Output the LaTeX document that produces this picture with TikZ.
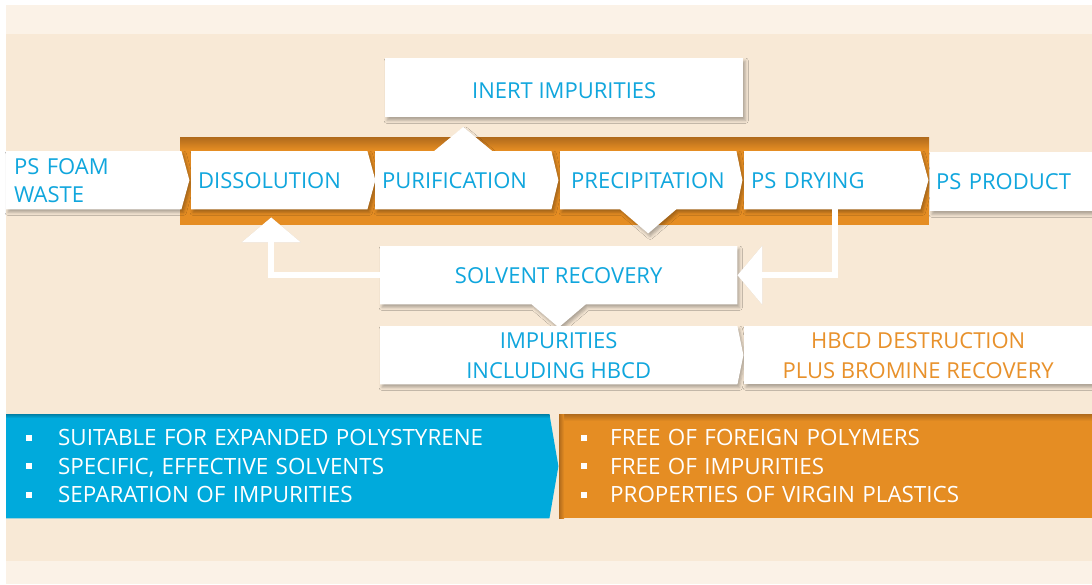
\documentclass[tikz,border=0pt]{standalone}
\usepackage{fontspec}
\setmainfont{Open Sans}
\usetikzlibrary{backgrounds,calc,arrows.meta,shadows.blur}
\definecolor{pagebg}{HTML}{F8E9D6}
\definecolor{lightbg}{HTML}{FBF2E7}
\definecolor{band}{HTML}{E58D23}
\definecolor{bandDark}{HTML}{B06A1C}
\definecolor{txtblue}{HTML}{10A6DD}
\definecolor{boxblue}{HTML}{00AADC}
\definecolor{txtorange}{HTML}{E8912B}
\begin{document}
\begin{tikzpicture}[x=1pt,y=-1pt,
  box/.style={anchor=north west, inner ysep=0pt, font=\fontsize{22}{28}\selectfont, text=txtblue},
  listbox/.style={anchor=north west, inner ysep=0pt, font=\fontsize{22.4}{28.5}\selectfont, text=white, align=left},
  sh/.style={blur shadow={shadow xshift=2pt,shadow yshift=-3pt,shadow blur radius=3pt,shadow opacity=30}},
  whitearrow/.style={draw=white, line width=6pt, -{Triangle[width=58pt,length=25pt]}},
  arrshadow/.style={draw=black, draw opacity=0.12, line width=6pt, -{Triangle[width=58pt,length=25pt]}, shift={(2,3)}},
]
\useasboundingbox (0,0) rectangle (1092,584);
% nodes
\node[box, minimum width=175pt, minimum height=58pt, inner xsep=8pt, text width=159pt, align=left] (foam) at (6,151) {PS FOAM\\WASTE};
\node[box, minimum width=176pt, minimum height=58pt, inner xsep=7pt, text width=162pt, align=left] (dis) at (191,151) {DISSOLUTION};
\node[box, minimum width=176pt, minimum height=58pt, inner xsep=7pt, text width=162pt, align=left] (pur) at (375,151) {PURIFICATION};
\node[box, minimum width=176pt, minimum height=58pt, inner xsep=11pt, text width=154pt, align=left] (prec) at (560,151) {PRECIPITATION};
\node[box, minimum width=176pt, minimum height=58pt, inner xsep=7pt, text width=162pt, align=left] (dry) at (744,151) {PS DRYING};
\node[box, minimum width=162pt, minimum height=59pt, inner xsep=6pt, text width=150pt, align=left] (prod) at (930,152) {PS PRODUCT};
\node[box, minimum width=358pt, minimum height=59pt, align=center, text height=21pt, text depth=0pt] (inert) at (385,58) {INERT IMPURITIES};
\node[box, minimum width=357pt, minimum height=58pt, align=center] (solv) at (380,246) {SOLVENT RECOVERY};
\node[box, minimum width=357pt, minimum height=58pt, align=center, font=\fontsize{22}{30}\selectfont] (imp) at (380,326) {IMPURITIES\\INCLUDING HBCD};
\node[box, minimum width=348pt, minimum height=58pt, align=center, font=\fontsize{22}{30}\selectfont, text=txtorange] (hbcd) at (744,326) {HBCD DESTRUCTION\\PLUS BROMINE RECOVERY};
\node[listbox, minimum width=543pt, minimum height=104pt, inner xsep=20pt, text width=503pt] (blist) at (6,414)
  {\makebox[32pt][l]{\rule[5pt]{6pt}{6pt}}SUITABLE FOR EXPANDED POLYSTYRENE\\
   \makebox[32pt][l]{\rule[5pt]{6pt}{6pt}}SPECIFIC, EFFECTIVE SOLVENTS\\
   \makebox[32pt][l]{\rule[5pt]{6pt}{6pt}}SEPARATION OF IMPURITIES};
\node[listbox, minimum width=533pt, minimum height=104pt, inner xsep=22pt, text width=489pt] (olist) at (559,414)
  {\makebox[29pt][l]{\rule[5pt]{6pt}{6pt}}FREE OF FOREIGN POLYMERS\\
   \makebox[29pt][l]{\rule[5pt]{6pt}{6pt}}FREE OF IMPURITIES\\
   \makebox[29pt][l]{\rule[5pt]{6pt}{6pt}}PROPERTIES OF VIRGIN PLASTICS};
\begin{scope}[on background layer]
  \fill[white] (0,0) rectangle (1092,584);
  \fill[lightbg] (6,5) rectangle (1092,584);
  \fill[pagebg] (6,34) rectangle (1092,561);
  % orange process band
  \fill[band] (180,137) rectangle (929,225);
  \shade[top color=bandDark, bottom color=band] (180,137) rectangle (929,150);
  % white step shapes
  \fill[white,sh] (foam.north west) -- (foam.north east) -- ($(foam.east)+(8,0)$) -- (foam.south east) -- (foam.south west) -- cycle;
  \fill[white,sh] (dis.north west) -- (dis.north east) -- ($(dis.east)+(8,0)$) -- (dis.south east) -- (dis.south west) -- cycle;
  \fill[white,sh] (pur.north west) -- ($(pur.north)+(-29,0)$) -- ($(pur.north)+(0,-24)$) -- ($(pur.north)+(29,0)$) -- (pur.north east) -- ($(pur.east)+(7,0)$) -- (pur.south east) -- (pur.south west) -- cycle;
  \fill[white,sh] (prec.north west) -- (prec.north east) -- ($(prec.east)+(6,0)$) -- (prec.south east) -- ($(prec.south)+(28,0)$) -- ($(prec.south)+(0,24)$) -- ($(prec.south)+(-28,0)$) -- (prec.south west) -- cycle;
  \fill[white,sh] (dry.north west) -- (dry.north east) -- ($(dry.east)+(8,0)$) -- (dry.south east) -- (dry.south west) -- cycle;
  \fill[white,sh] (prod.north west) rectangle (prod.south east);
  \fill[white,sh] (inert.north west) rectangle (inert.south east);
  \fill[white,sh] (solv.north west) -- (solv.north east) -- (solv.south east) -- ($(solv.south)+(27,0)$) -- ($(solv.south)+(0,23)$) -- ($(solv.south)+(-27,0)$) -- (solv.south west) -- cycle;
  \fill[white,sh] (imp.north west) -- (imp.north east) -- ($(imp.east)+(6,0)$) -- (imp.south east) -- (imp.south west) -- cycle;
  \fill[white,sh] (hbcd.north west) rectangle (hbcd.south east);
  % recycling arrows
  \draw[arrshadow] (solv.west) -| ($(dis.south)+(-8,8)$);
  \draw[arrshadow] ($(dry.south)+(3,0)$) |- (solv.east);
  \draw[whitearrow] (solv.west) -| ($(dis.south)+(-8,8)$);
  \draw[whitearrow] ($(dry.south)+(3,0)$) |- (solv.east);
  % bottom panels
  \fill[boxblue] (blist.north west) -- (blist.north east) -- ($(blist.east)+(9,0)$) -- (blist.south east) -- (blist.south west) -- cycle;
  \shade[top color=black!25!boxblue, bottom color=boxblue] (blist.north west) rectangle ($(blist.north east)+(0,4)$);
  \fill[band] (olist.north west) rectangle (olist.south east);
  \shade[top color=bandDark, bottom color=band] (olist.north west) rectangle ($(olist.north east)+(0,7)$);
  \shade[left color=bandDark, right color=band] (olist.north west) rectangle ($(olist.south west)+(5,0)$);
\end{scope}
\end{tikzpicture}
\end{document}
